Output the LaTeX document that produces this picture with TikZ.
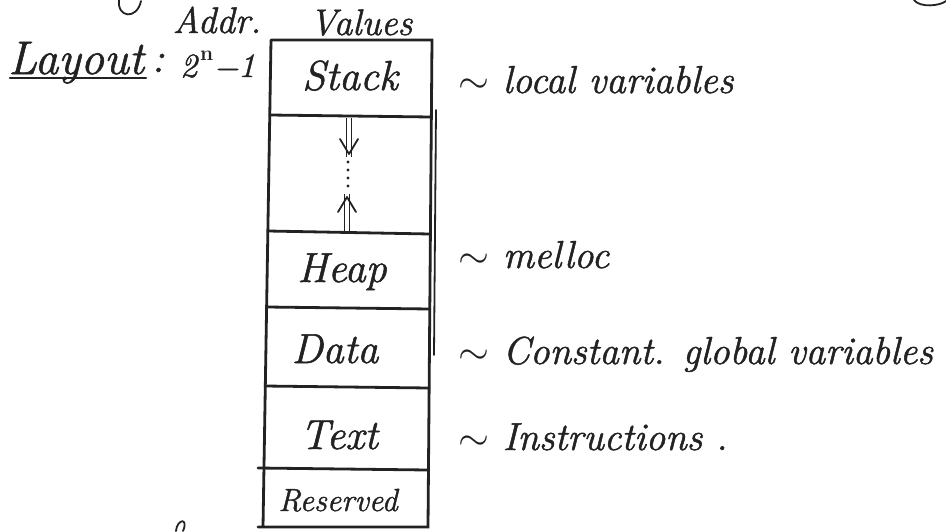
\documentclass[tikz,border=0pt]{standalone}
\usepackage{fontspec}
\newfontfamily\hand{Latin Modern Roman}[ItalicFeatures={FakeBold=1.3}]
\definecolor{inkc}{RGB}{34,34,34}
\newcommand{\swung}{\scalebox{1.6}{$\sim$}}
\begin{document}
\begin{tikzpicture}[x=1pt,y=-1pt,
  boxline/.style={draw=inkc, line width=2.8pt, line cap=round},
  thinline/.style={draw=inkc, line width=1.8pt, line cap=round, line join=round},
  lbl/.style={text=inkc, inner sep=0pt, anchor=base, font=\fontsize{42}{48}\hand\itshape},
  note/.style={text=inkc, inner sep=0pt, anchor=base west, font=\fontsize{39}{44}\hand\itshape},
  head/.style={text=inkc, inner sep=0pt, anchor=base, font=\fontsize{37}{42}\hand\itshape},
  supn/.style={text=inkc, inner sep=0pt, anchor=base west, font=\fontsize{21}{23}\hand\bfseries},
  shaft/.style={draw=inkc, double, double distance=3.6pt, line width=1.6pt}]
\useasboundingbox (0,0) rectangle (946,531);
\fill[white] (0,0) rectangle (946,531);

% memory box outline
\coordinate (TL) at (271,40);
\coordinate (TR) at (432,40);
\coordinate (BR) at (428,527);
\coordinate (BL) at (263,527);
\draw[boxline] (TL) -- (TR) -- (BR) -- (258,527) (TL) -- (BL);
% second stroke along the right edge
\draw[thinline] (436,110) -- (434,355);

% row separators
\draw[boxline] (270,115) -- (431,117);
\draw[boxline] (268,231) -- (430,234);
\draw[boxline] (267,307) -- (430,309);
\draw[boxline] (265,386) -- (429,388);
\draw[boxline] (258,468) -- (428,470);

% column headings and title
\node[head] (addr) at (217,33) {Addr.};
\node[head] (values) at (361,35) {Values};
\node[lbl, anchor=base west, font=\fontsize{47}{50}\hand\itshape] (layout) at (8,74) {Layout};
\draw[boxline, line width=2.2pt] (10,78) -- (146,78);
\node[lbl] (colon) at (158,72) {:};
% highest address 2^n - 1
\node[lbl, anchor=base west, font=\fontsize{34}{38}\hand\itshape] (two) at (180,77) {2};
\node[supn] (expn) at (200,60) {n};
\node[lbl, anchor=base west, font=\fontsize{34}{38}\hand\itshape] (minus) at (213,78) {−};
\node[lbl, anchor=base west, font=\fontsize{34}{38}\hand\itshape] (one) at (238,77) {1};

% segments
\node[lbl] (stack) at (350,90) {Stack};
\node[lbl] (heap) at (342,282) {Heap};
\node[lbl] (data) at (335,363) {Data};
\node[lbl] (text) at (339,449) {Text};
\node[lbl, font=\fontsize{32}{36}\hand\itshape] (reserved) at (338,511) {Reserved};

% growth arrows and free space
\coordinate (dnS) at (349,118);
\coordinate (dnE) at (349,154);
\coordinate (upS) at (347,231);
\coordinate (upE) at (347,197);
\draw[shaft] (dnS) -- ([yshift=-3pt]dnE);
\draw[thinline] ([shift={(-9,-15)}]dnE) -- (dnE) -- ([shift={(9,-15)}]dnE);
\draw[shaft] (upS) -- ([yshift=3pt]upE);
\draw[thinline] ([shift={(-9,15)}]upE) -- (upE) -- ([shift={(9,15)}]upE);
\foreach \y in {162,170,178,186} \fill[inkc] (348,\y) circle (1.7pt);

% notes
\node[note] (nstack) at (458,93) {\swung\ local variables};
\node[note] (nheap) at (458,268) {\swung\ melloc};
\node[note] (ndata) at (458,364) {\swung\ Constant. global variables};
\node[note] (ntext) at (458,450) {\swung\ Instructions .};

% pen strokes cut by the page edges
\draw[thinline] (119,0) .. controls (117,18) and (137,20) .. (141,1);
\draw[thinline] (914,0) .. controls (920,8) and (940,6) .. (946,1);
\draw[thinline] (176,531) .. controls (177,519) and (189,517) .. (183,531);
\end{tikzpicture}
\end{document}
